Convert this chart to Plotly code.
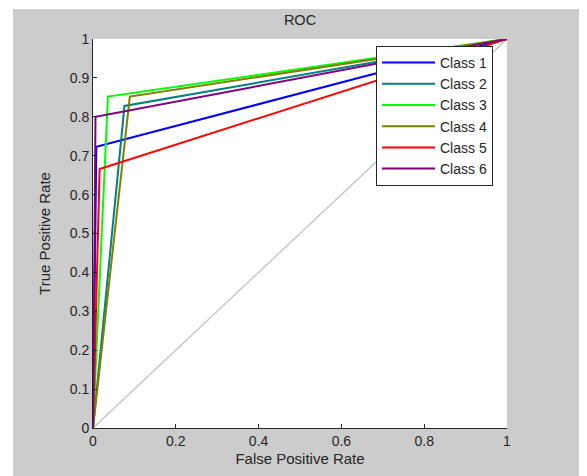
import plotly.graph_objects as go

class_names = ["Class 1", "Class 2", "Class 3", "Class 4", "Class 5", "Class 6"]
fpr_values = [
    [0.0, 0.008, 1.0],
    [0.0, 0.076, 1.0],
    [0.0, 0.036, 1.0],
    [0.0, 0.089, 1.0],
    [0.0, 0.016, 1.0],
    [0.0, 0.006, 1.0],
]
tpr_values = [
    [0.0, 0.723, 1.0],
    [0.0, 0.828, 1.0],
    [0.0, 0.852, 1.0],
    [0.0, 0.852, 1.0],
    [0.0, 0.666, 1.0],
    [0.0, 0.800, 1.0],
]
class_colors = ["#0000ff", "#008080", "#00ff00", "#808000", "#ff0000", "#800080"]
chance_x = [0, 1]
chance_y = [0, 1]
y_tick_vals = [0, 0.1, 0.2, 0.3, 0.4, 0.5, 0.6, 0.7, 0.8, 0.9, 1]
y_tick_text = ["0", "0.1", "0.2", "0.3", "0.4", "0.5", "0.6", "0.7", "0.8", "0.9", "1"]
x_tick_vals = [0, 0.2, 0.4, 0.6, 0.8, 1]
x_tick_text = ["0", "0.2", "0.4", "0.6", "0.8", "1"]

FONT = "Liberation Sans, Arial, sans-serif"
TXT = "#262626"

fig = go.Figure()
fig.add_trace(go.Scatter(x=chance_x, y=chance_y, mode="lines",
                         line=dict(color="#c8c8c8", width=1.5),
                         showlegend=False, hoverinfo="skip"))
for name, xs, ys, c in zip(class_names, fpr_values, tpr_values, class_colors):
    fig.add_trace(go.Scatter(x=xs, y=ys, mode="lines", name=name,
                             line=dict(color=c, width=2)))

W, H = 579, 468
L, R, T, B = 85, 80, 31, 48
pw = W - L - R
ph = H - T - B

fig.update_layout(
    width=W, height=H,
    margin=dict(l=L, r=R, t=T, b=B),
    paper_bgcolor="#cccccc",
    plot_bgcolor="#ffffff",
    font=dict(family=FONT, size=14, color=TXT),
    title=dict(text="ROC", x=(L + pw / 2) / W, xanchor="center",
               y=1 - 12 / H, yanchor="middle", font=dict(size=14.5, family=FONT, color=TXT)),
    xaxis=dict(range=[0, 1], tickvals=x_tick_vals, ticktext=x_tick_text,
               ticks="inside", ticklen=4, tickcolor=TXT, showgrid=False, zeroline=False,
               showline=True, linecolor=TXT, linewidth=1, mirror=False,
               title=dict(text="False Positive Rate", standoff=5, font=dict(size=15)),
               tickfont=dict(size=14)),
    yaxis=dict(range=[0, 1], tickvals=y_tick_vals, ticktext=y_tick_text,
               ticks="inside", ticklen=4, tickcolor=TXT, showgrid=False, zeroline=False,
               showline=True, linecolor=TXT, linewidth=1, mirror=False,
               title=dict(text="True Positive Rate", standoff=15, font=dict(size=15)),
               tickfont=dict(size=14)),
    legend=dict(x=(368 - L) / pw, y=(H - B - 38) / ph, xanchor="left", yanchor="top",
                bgcolor="#ffffff", bordercolor=TXT, borderwidth=1, itemwidth=53,
                font=dict(size=14, family=FONT, color=TXT), tracegroupgap=0),
    shapes=[
        dict(type="rect", xref="paper", yref="paper", x0=-L / pw, x1=(5 - L) / pw,
             y0=-B / ph, y1=(H - B) / ph, fillcolor="#ffffff", line=dict(width=0), layer="below"),
        dict(type="rect", xref="paper", yref="paper", x0=-L / pw, x1=(W - L) / pw,
             y0=(H - B - 1) / ph, y1=(H - B) / ph, fillcolor="#ffffff", line=dict(width=0), layer="below"),
    ],
)

fig.write_html("out.html")
